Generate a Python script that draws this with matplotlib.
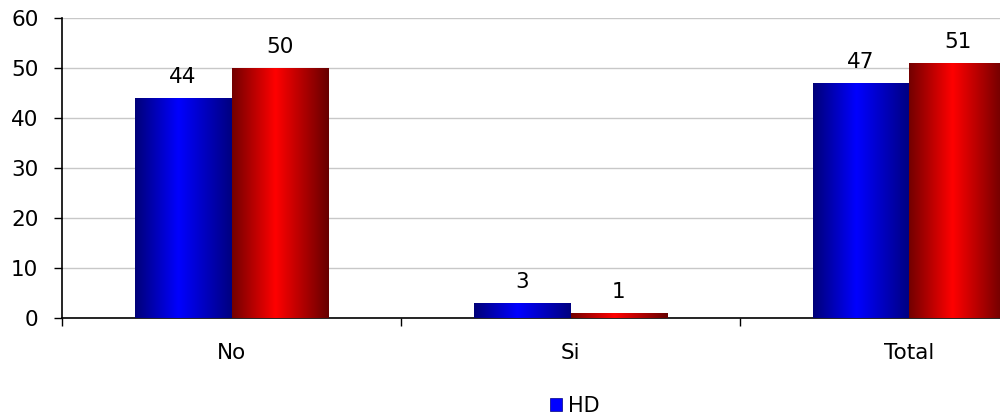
import numpy as np
import matplotlib
matplotlib.use("Agg")
import matplotlib.pyplot as plt
from matplotlib.colors import LinearSegmentedColormap
from matplotlib.patches import Patch

categories = ["No", "Si", "Total"]
hd_values = [44, 3, 47]
second_values = [50, 1, 51]
series_names = ["HD", ""]

FS = 15.5

fig = plt.figure(figsize=(10, 4.17), dpi=100)
ax = fig.add_axes([0.062, 1 - 318 / 417, 1.017, 300 / 417])

blue_cmap = LinearSegmentedColormap.from_list(
    "blue_shade", [(0, (0, 0, 0.47)), (0.45, (0, 0, 1)), (1, (0, 0, 0.5))])
red_cmap = LinearSegmentedColormap.from_list(
    "red_shade", [(0, (0.45, 0, 0)), (0.45, (1, 0, 0)), (1, (0.4, 0, 0))])

x = np.arange(len(categories))
width = 0.286
grad = np.linspace(0, 1, 256).reshape(1, -1)

for xs, vals, cmap in [(x - width / 2, hd_values, blue_cmap),
                       (x + width / 2, second_values, red_cmap)]:
    bars = ax.bar(xs, vals, width, color="none", edgecolor="none", zorder=3)
    for b, v in zip(bars, vals):
        x0 = b.get_x()
        ax.imshow(grad, cmap=cmap, aspect="auto", zorder=3,
                  extent=(x0, x0 + b.get_width(), 0, b.get_height()),
                  interpolation="bilinear")
        ax.text(x0 + b.get_width() / 2, v + 3, f"{v}", ha="center",
                va="baseline", fontsize=FS, color="black", zorder=4)

ax.set_xlim(-0.5, len(categories) - 0.5)
ax.set_ylim(0, 60)
ax.set_yticks(range(0, 61, 10))
ax.yaxis.grid(True, color="#c8c8c8", linewidth=1)
ax.set_axisbelow(True)

ax.set_xticks(x)
ax.set_xticklabels(categories, fontsize=FS)
ax.set_xticks(np.arange(-0.5, len(categories), 1), minor=True)
ax.tick_params(axis="x", which="major", length=0, pad=18)
ax.tick_params(axis="x", which="minor", length=6, width=1, direction="out")
ax.tick_params(axis="y", length=6, width=1, direction="out", pad=11,
               labelsize=FS)

for side in ("top", "right"):
    ax.spines[side].set_visible(False)
for side in ("left", "bottom"):
    ax.spines[side].set_color("black")
    ax.spines[side].set_linewidth(1.2)

handles = [Patch(facecolor="#0000ff", edgecolor="#000080", linewidth=0.5,
                 label=series_names[0])]
fig.legend(handles=handles, loc="center", bbox_to_anchor=(0.575, 1 - 406 / 417),
           frameon=False, fontsize=15, handlelength=0.55, handleheight=0.55,
           handletextpad=0.3, borderpad=0)

fig.savefig("out.png", dpi=100)
